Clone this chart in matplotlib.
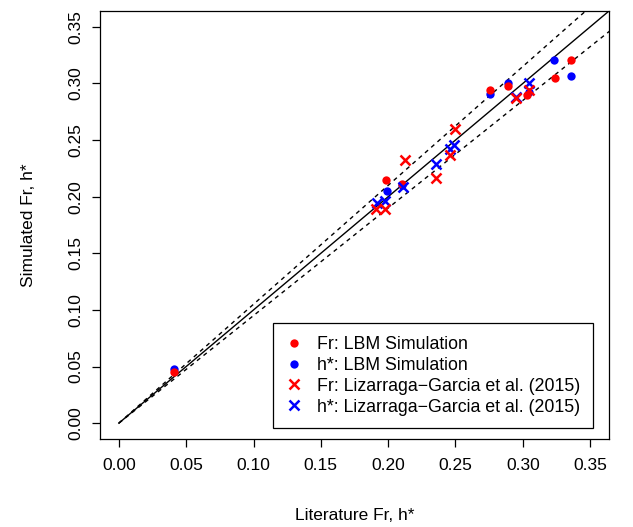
import matplotlib
matplotlib.use("Agg")
import matplotlib.pyplot as plt
from matplotlib.lines import Line2D
import numpy as np

plt.rcParams['font.family'] = ['Liberation Sans', 'DejaVu Sans']

# LBM simulation (literature value, simulated value)
fr_lbm_x = [0.0412, 0.1987, 0.2103, 0.2757, 0.2888, 0.3028, 0.3240, 0.3357]
fr_lbm_y = [0.0455, 0.2151, 0.2113, 0.2944, 0.2982, 0.2900, 0.3052, 0.3208]
h_lbm_x = [0.0412, 0.1992, 0.2103, 0.2757, 0.2888, 0.3043, 0.3233, 0.3357]
h_lbm_y = [0.0479, 0.2048, 0.2100, 0.2905, 0.3000, 0.2923, 0.3208, 0.3070]

# Lizarraga-Garcia et al. (2015)
fr_liz_x = [0.1913, 0.1975, 0.2123, 0.2352, 0.2456, 0.2500, 0.2950, 0.3048]
fr_liz_y = [0.1887, 0.1887, 0.2327, 0.2165, 0.2370, 0.2600, 0.2876, 0.2944]
h_liz_x = [0.1918, 0.1975, 0.2110, 0.2352, 0.2456, 0.2490, 0.2950, 0.3048]
h_liz_y = [0.1946, 0.1960, 0.2084, 0.2292, 0.2417, 0.2460, 0.2880, 0.3000]

ticks = [0.00, 0.05, 0.10, 0.15, 0.20, 0.25, 0.30, 0.35]
lo, hi = -0.014, 0.364

W, H = 633, 527
fs = 12.5
fig = plt.figure(figsize=(W / 100, H / 100), dpi=100)
ax = fig.add_axes([100 / W, 1 - 439 / H, 509 / W, 428 / H])
ax.set_xlim(lo, hi)
ax.set_ylim(lo, hi)

line = np.array([0.0, 0.4])
ax.plot(line, line, color='black', lw=1.0)
ax.plot(line, 1.05 * line, color='black', lw=1.0, ls=(0, (3, 3)))
ax.plot(line, 0.95 * line, color='black', lw=1.0, ls=(0, (3, 3)))

ms_dot = 6
ms_x = 7.5
ax.plot(h_lbm_x, h_lbm_y, 'o', color='#0000FF', ms=ms_dot, mec='none')
ax.plot(fr_lbm_x, fr_lbm_y, 'o', color='#FF0000', ms=ms_dot, mec='none')
ax.plot(h_liz_x, h_liz_y, 'x', color='#0000FF', ms=ms_x, mew=1.8)
ax.plot(fr_liz_x, fr_liz_y, 'x', color='#FF0000', ms=ms_x, mew=1.8)

ax.set_xticks(ticks)
ax.set_yticks(ticks)
ax.set_xticklabels([f"{t:.2f}" for t in ticks])
ax.set_yticklabels([f"{t:.2f}" for t in ticks], rotation=90, va='center')
ax.tick_params(direction='out', length=6, width=0.9, labelsize=fs, pad=6, colors='black')
ax.tick_params(axis='x', pad=8)
for s in ax.spines.values():
    s.set_linewidth(0.9)

ax.set_xlabel("Literature Fr, h*", fontsize=fs, labelpad=25)
ax.set_ylabel("Simulated Fr, h*", fontsize=fs, labelpad=23)

handles = [
    Line2D([], [], ls='none', marker='o', color='#FF0000', ms=ms_dot, mec='none'),
    Line2D([], [], ls='none', marker='o', color='#0000FF', ms=ms_dot, mec='none'),
    Line2D([], [], ls='none', marker='x', color='#FF0000', ms=ms_x - 1, mew=1.8),
    Line2D([], [], ls='none', marker='x', color='#0000FF', ms=ms_x - 1, mew=1.8),
]
labels = ["Fr: LBM Simulation", "h*: LBM Simulation",
          "Fr: Lizarraga\u2212Garcia et al. (2015)", "h*: Lizarraga\u2212Garcia et al. (2015)"]
leg = ax.legend(handles, labels, loc='lower right', bbox_to_anchor=(493 / 509, 11 / 428),
                frameon=True, fancybox=False, framealpha=1, edgecolor='black',
                fontsize=12.8, handlelength=1.0, handletextpad=0.8,
                labelspacing=0.22, borderpad=0.7, borderaxespad=0)
leg.get_frame().set_linewidth(0.9)

fig.savefig("out.png", dpi=100)
